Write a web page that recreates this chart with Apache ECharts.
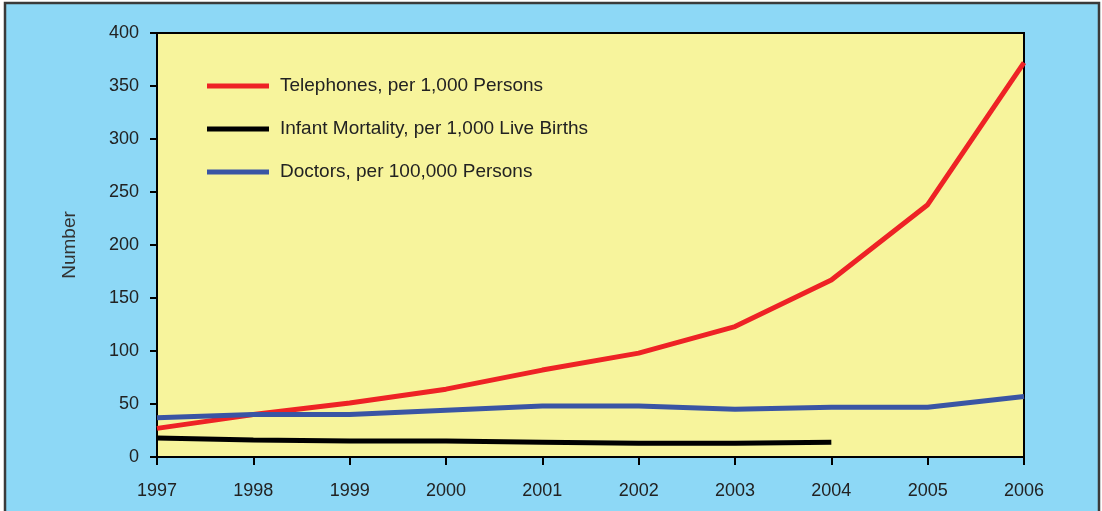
<!DOCTYPE html>
<html>
<head>
<meta charset="utf-8">
<script src="https://cdn.jsdelivr.net/npm/echarts@6/dist/echarts.min.js"></script>
<style>
html,body{margin:0;padding:0;background:#fff;}
#c{width:1102px;height:511px;}
</style>
</head>
<body>
<div id="c"></div>
<script>
const years = ['1997','1998','1999','2000','2001','2002','2003','2004','2005','2006'];
const telephones = [27, 40, 51, 64, 82, 98, 123, 167, 238, 372];
const infantMortality = [18, 16, 15, 15, 14, 13, 13, 14, null, null];
const doctors = [37, 40, 40, 44, 48, 48, 45, 47, 47, 57];
const yTicks = [0, 50, 100, 150, 200, 250, 300, 350, 400];
const seriesNames = ['Telephones, per 1,000 Persons', 'Infant Mortality, per 1,000 Live Births', 'Doctors, per 100,000 Persons'];

const chart = echarts.init(document.getElementById('c'));
const font = 'Liberation Sans, Arial, sans-serif';
chart.setOption({
  backgroundColor: '#ffffff',
  animation: false,
  graphic: [{
    type: 'rect', z: -10, silent: true,
    shape: {x: 5, y: 3, width: 1094, height: 530},
    style: {fill: '#8dd8f6', stroke: '#3a3a3a', lineWidth: 2.5}
  }],
  grid: {
    left: 157, top: 33, right: 78, bottom: 54,
    show: true, backgroundColor: '#f7f49c', borderColor: '#000', borderWidth: 2
  },
  legend: {
    orient: 'vertical', left: 202, top: 71,
    itemWidth: 62, itemHeight: 5, itemGap: 23,
    icon: 'rect',
    textStyle: {fontFamily: font, fontSize: 19, color: '#222', lineHeight: 20, padding: [0, 0, 0, 6]},
    data: seriesNames
  },
  xAxis: {
    type: 'category', data: years, boundaryGap: false,
    axisLine: {lineStyle: {color: '#000', width: 2}},
    axisTick: {show: true, length: 8, lineStyle: {color: '#000', width: 2}, alignWithLabel: true},
    axisLabel: {fontFamily: font, fontSize: 18, color: '#222', margin: 25},
    splitLine: {show: false}
  },
  yAxis: {
    type: 'value', min: 0, max: 400, interval: 50,
    name: 'Number', nameLocation: 'middle', nameGap: 78, nameRotate: 90,
    nameTextStyle: {fontFamily: font, fontSize: 19, color: '#333'},
    axisLine: {show: true, lineStyle: {color: '#000', width: 2}},
    axisTick: {show: true, length: 7, lineStyle: {color: '#000', width: 2}},
    axisLabel: {fontFamily: font, fontSize: 18, color: '#222', margin: 18},
    splitLine: {show: false}
  },
  series: [
    {name: seriesNames[0], type: 'line', data: telephones, symbol: 'none', color: '#ee2225', lineStyle: {width: 5, color: '#ee2225'}},
    {name: seriesNames[1], type: 'line', data: infantMortality, symbol: 'none', color: '#000', lineStyle: {width: 5, color: '#000'}},
    {name: seriesNames[2], type: 'line', data: doctors, symbol: 'none', color: '#3a55a4', lineStyle: {width: 5, color: '#3a55a4'}}
  ]
});
</script>
</body>
</html>
